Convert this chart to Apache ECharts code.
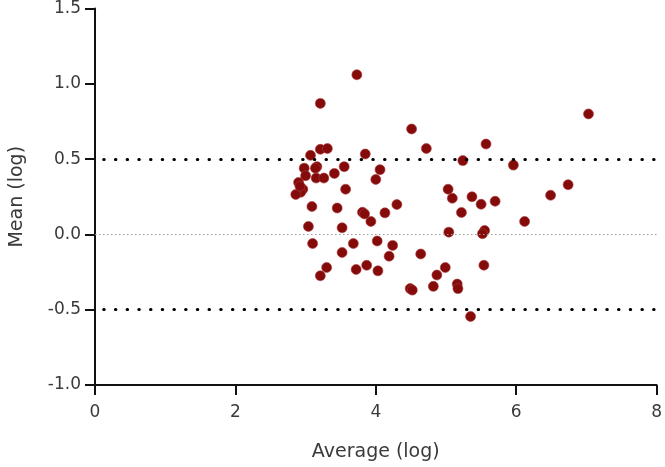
<!DOCTYPE html>
<html>
<head>
<meta charset="utf-8">
<script src="https://cdn.jsdelivr.net/npm/echarts@6/dist/echarts.min.js"></script>
<style>
  html, body { margin: 0; padding: 0; background: #fff; }
  #chart { width: 665px; height: 467px; }
</style>
</head>
<body>
<div id="chart"></div>
<script>
// 散点：Average (log) vs Mean (log)，±0.5 限值线 + 0 参考线
const points = [
  [3.73, 1.06], [3.21, 0.87], [4.51, 0.70], [4.72, 0.57], [5.57, 0.60], [7.03, 0.80],
  [5.24, 0.49], [5.96, 0.46], [6.74, 0.33], [6.49, 0.26], [5.03, 0.30], [5.09, 0.24],
  [5.37, 0.25], [5.50, 0.20], [5.70, 0.22], [5.22, 0.145], [6.12, 0.086], [5.04, 0.015],
  [5.55, 0.026], [5.52, 0.005], [4.64, -0.13], [5.54, -0.205], [4.99, -0.22], [4.87, -0.27],
  [4.82, -0.345], [5.16, -0.33], [5.17, -0.36], [4.49, -0.36], [4.52, -0.37], [5.35, -0.545],
  [2.90, 0.345], [2.96, 0.30], [2.93, 0.28], [2.86, 0.265], [2.92, 0.32],
  [3.57, 0.30], [4.00, 0.365], [3.09, 0.185], [3.45, 0.175], [3.81, 0.147], [3.84, 0.136],
  [4.13, 0.143], [4.30, 0.198], [3.93, 0.086], [3.04, 0.053], [3.52, 0.044], [3.10, -0.061],
  [3.68, -0.061], [4.02, -0.044], [4.24, -0.073], [3.52, -0.12], [4.19, -0.145],
  [3.30, -0.22], [3.21, -0.275], [3.72, -0.233], [3.87, -0.205], [4.03, -0.242],
  [3.21, 0.565], [3.31, 0.57], [3.07, 0.525], [3.85, 0.534], [2.98, 0.44], [3.16, 0.45],
  [3.14, 0.44], [3.55, 0.45], [4.06, 0.43], [3.00, 0.39], [3.15, 0.374], [3.26, 0.374],
  [3.41, 0.405]
]
const limitLines = [0.5, -0.5]
const zeroLine = 0

const labelFont = { fontFamily: 'DejaVu Sans', fontSize: 17, color: '#3a3a3a' }
const nameFont = { fontFamily: 'DejaVu Sans', fontSize: 19, color: '#3a3a3a' }
const axisStroke = { color: '#111', width: 2 }

const chart = echarts.init(document.getElementById('chart'))
chart.setOption({
  backgroundColor: '#fff',
  animation: false,
  grid: { left: 92, right: 8, top: 7, bottom: 81 },
  xAxis: {
    type: 'value',
    min: 0, max: 8, interval: 2,
    name: 'Average (log)',
    nameLocation: 'middle',
    nameGap: 58,
    nameTextStyle: nameFont,
    axisLine: { show: true, onZero: false, lineStyle: axisStroke },
    axisTick: { show: true, length: 10, lineStyle: axisStroke },
    axisLabel: { ...labelFont, margin: 19 },
    splitLine: { show: false }
  },
  yAxis: {
    type: 'value',
    min: -1, max: 1.5, interval: 0.5,
    name: 'Mean (log)',
    nameLocation: 'middle',
    nameGap: 68,
    nameTextStyle: nameFont,
    axisLine: { show: true, onZero: false, lineStyle: axisStroke },
    axisTick: { show: true, length: 10, lineStyle: axisStroke },
    axisLabel: { ...labelFont, margin: 14, formatter: (v) => v.toFixed(1) },
    splitLine: { show: false }
  },
  series: [
    {
      type: 'scatter',
      data: points,
      symbolSize: 10,
      itemStyle: { color: '#850b0b', opacity: 1, borderColor: '#a83a3a', borderWidth: 0.6 },
      z: 3
    },
    {
      type: 'line',
      data: [],
      markLine: {
        silent: true,
        symbol: 'none',
        label: { show: false },
        data: [
          ...limitLines.map((v) => ({
            yAxis: v,
            lineStyle: { color: '#000', width: 3, type: [0.5, 11.2], cap: 'round', dashOffset: 3 }
          })),
          {
            yAxis: zeroLine,
            lineStyle: { color: '#999', width: 1, type: [1.5, 2.5] }
          }
        ]
      }
    }
  ]
})
</script>
</body>
</html>
